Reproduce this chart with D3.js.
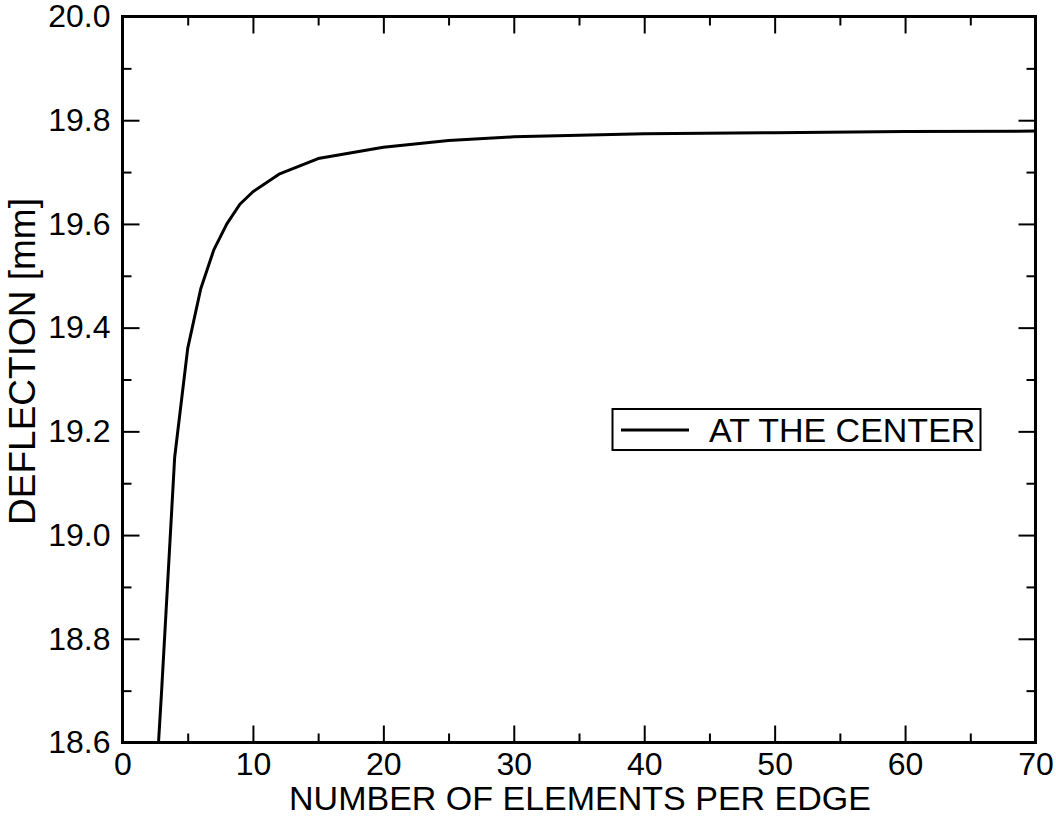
<!DOCTYPE html>
<html>
<head>
<meta charset="utf-8">
<script src="https://cdn.jsdelivr.net/npm/d3@7"></script>
<style>
  html, body { margin: 0; padding: 0; background: #fff; }
  svg { display: block; }
  text { font-family: "Liberation Sans", Arial, Helvetica, sans-serif; fill: #000; }
</style>
</head>
<body>
<svg id="chart" width="1056" height="816"></svg>
<script>
// ---- data ----
const elements = [2, 3, 4, 5, 6, 7, 8, 9, 10, 12, 15, 20, 25, 30, 40, 50, 60, 70];
const deflection = [18.28, 18.70, 19.15, 19.36, 19.475, 19.55, 19.60, 19.638, 19.662, 19.696, 19.726, 19.748, 19.761, 19.768, 19.774, 19.776, 19.778, 19.779];
const seriesName = "AT THE CENTER";
const xTicks = [0, 10, 20, 30, 40, 50, 60, 70];
const xMinorTicks = [5, 15, 25, 35, 45, 55, 65];
const yTicks = [18.6, 18.8, 19.0, 19.2, 19.4, 19.6, 19.8, 20.0];
const yMinorTicks = [18.7, 18.9, 19.1, 19.3, 19.5, 19.7, 19.9];
const xTitle = "NUMBER OF ELEMENTS PER EDGE";
const yTitle = "DEFLECTION [mm]";

// ---- layout ----
const L = 122.5, R = 1035.5, T = 16.5, B = 742.5;
const svg = d3.select("#chart");
const x = d3.scaleLinear().domain([0, 70]).range([L, R]);
const y = d3.scaleLinear().domain([18.6, 20.0]).range([B, T]);

svg.append("defs").append("clipPath").attr("id", "clip")
  .append("rect").attr("x", L).attr("y", T).attr("width", R - L).attr("height", B - T);

// data line
const pts = elements.map((e, i) => [e, deflection[i]]);
svg.append("path")
  .attr("clip-path", "url(#clip)")
  .attr("d", d3.line().x(d => x(d[0])).y(d => y(d[1]))(pts))
  .attr("fill", "none").attr("stroke", "#000").attr("stroke-width", 3)
  .attr("stroke-linejoin", "round");

// axes with inward ticks on all sides
const MAJ = 17, MIN = 9;
const fmtY = d3.format(".1f");
function tickAxis(axisGen, tr) {
  const g = svg.append("g").attr("transform", tr).call(axisGen);
  g.select(".domain").remove();
  g.selectAll("line").attr("stroke", "#000").attr("stroke-width", 2);
  return g;
}
// bottom
const gb = tickAxis(d3.axisBottom(x).tickValues(xTicks).tickSizeInner(-MAJ).tickSizeOuter(0).tickPadding(10).tickFormat(d3.format("d")), `translate(0,${B})`);
gb.selectAll("text").attr("font-size", 32).attr("dy", "0.71em");
tickAxis(d3.axisBottom(x).tickValues(xMinorTicks).tickSize(-MIN).tickFormat(""), `translate(0,${B})`);
// top
tickAxis(d3.axisTop(x).tickValues(xTicks).tickSize(-MAJ).tickFormat(""), `translate(0,${T})`);
tickAxis(d3.axisTop(x).tickValues(xMinorTicks).tickSize(-MIN).tickFormat(""), `translate(0,${T})`);
// left
const gl = tickAxis(d3.axisLeft(y).tickValues(yTicks).tickSizeInner(-MAJ).tickSizeOuter(0).tickPadding(12).tickFormat(fmtY), `translate(${L},0)`);
gl.selectAll("text").attr("font-size", 32);
tickAxis(d3.axisLeft(y).tickValues(yMinorTicks).tickSize(-MIN).tickFormat(""), `translate(${L},0)`);
// right
tickAxis(d3.axisRight(y).tickValues(yTicks).tickSize(-MAJ).tickFormat(""), `translate(${R},0)`);
tickAxis(d3.axisRight(y).tickValues(yMinorTicks).tickSize(-MIN).tickFormat(""), `translate(${R},0)`);
svg.selectAll(".tick text").attr("font-family", "'Liberation Sans', Arial, sans-serif").attr("fill", "#000");

// frame
svg.append("rect").attr("x", L).attr("y", T).attr("width", R - L).attr("height", B - T)
  .attr("fill", "none").attr("stroke", "#000").attr("stroke-width", 3);

// axis titles
svg.append("text").attr("x", (L + R) / 2 + 1).attr("y", 810)
  .attr("text-anchor", "middle").attr("font-size", 34).text(xTitle);
svg.append("text").attr("transform", `translate(35,${(T + B) / 2 - 18}) rotate(-90)`)
  .attr("text-anchor", "middle").attr("font-size", 37).text(yTitle);

// legend
const lg = svg.append("g");
lg.append("rect").attr("x", 612.5).attr("y", 409).attr("width", 368).attr("height", 41)
  .attr("fill", "#fff").attr("stroke", "#000").attr("stroke-width", 2);
lg.append("line").attr("x1", 621).attr("x2", 689).attr("y1", 430).attr("y2", 430)
  .attr("stroke", "#000").attr("stroke-width", 3);
lg.append("text").attr("x", 709).attr("y", 442).attr("font-size", 34).text(seriesName);
</script>
</body>
</html>
